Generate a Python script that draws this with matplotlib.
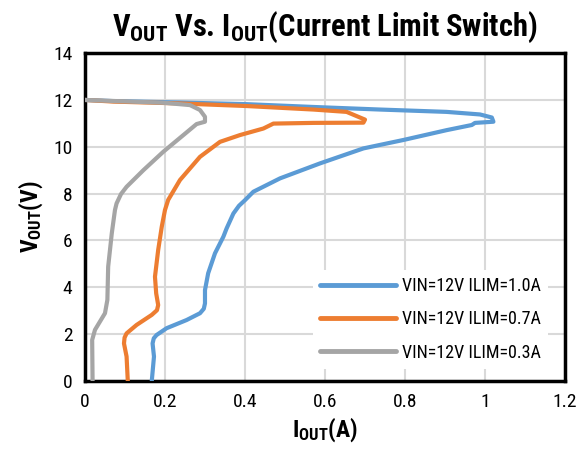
import matplotlib
matplotlib.use("Agg")
import matplotlib.pyplot as plt
from matplotlib import font_manager

avail = {f.name for f in font_manager.fontManager.ttflist}
font = next((n for n in ["Liberation Sans Narrow", "Arial Narrow", "Roboto Condensed",
                         "PT Sans Narrow", "Liberation Sans"] if n in avail), "DejaVu Sans")

plt.rcParams['font.family'] = [font, 'DejaVu Sans']
plt.rcParams['mathtext.fontset'] = 'custom'
plt.rcParams['mathtext.rm'] = font + ':bold'
plt.rcParams['mathtext.it'] = font + ':bold'
plt.rcParams['mathtext.bf'] = font + ':bold'

# ---- data ----
blue_x = [0.167, 0.1725, 0.169, 0.172, 0.179, 0.204, 0.254, 0.2875, 0.297, 0.300, 0.300, 0.308,
          0.325, 0.346, 0.354, 0.371, 0.385, 0.400, 0.421, 0.4875, 0.5875, 0.696, 0.796, 0.904,
          0.967, 0.975, 1.021, 1.017, 0.9875, 0.904, 0.7375, 0.571, 0.404, 0.2375, 0.071, 0.0]
blue_y = [0.0, 1.04, 1.6, 1.82, 1.96, 2.25, 2.6, 2.89, 3.08, 3.31, 3.88, 4.6,
          5.45, 6.16, 6.51, 7.15, 7.48, 7.72, 8.08, 8.65, 9.29, 9.93, 10.29, 10.71,
          10.93, 11.02, 11.07, 11.25, 11.38, 11.49, 11.59, 11.7, 11.82, 11.89, 11.95, 12.0]

orange_x = [0.107, 0.104, 0.0975, 0.099, 0.104, 0.129, 0.167, 0.180, 0.183, 0.178, 0.175,
            0.183, 0.192, 0.200, 0.208, 0.2375, 0.2875, 0.3375, 0.3875, 0.446, 0.471, 0.571,
            0.696, 0.700, 0.654, 0.571, 0.404, 0.2375, 0.071, 0.0]
orange_y = [0.0, 1.04, 1.6, 1.85, 2.03, 2.39, 2.82, 3.02, 3.24, 3.74, 4.45,
            5.59, 6.59, 7.3, 7.73, 8.58, 9.57, 10.21, 10.50, 10.78, 10.99, 11.02,
            11.03, 11.16, 11.49, 11.59, 11.74, 11.85, 11.93, 12.0]

gray_x = [0.019, 0.018, 0.025, 0.05, 0.056, 0.058, 0.067, 0.075, 0.079, 0.090, 0.104, 0.146,
          0.196, 0.246, 0.279, 0.300, 0.300, 0.2875, 0.2625, 0.196, 0.1125, 0.0]
gray_y = [0.0, 1.75, 2.18, 2.89, 3.46, 4.88, 6.30, 7.30, 7.58, 7.98, 8.29, 9.0,
          9.79, 10.5, 10.97, 11.07, 11.28, 11.57, 11.78, 11.88, 11.93, 12.0]

labels = ["VIN=12V ILIM=1.0A", "VIN=12V ILIM=0.7A", "VIN=12V ILIM=0.3A"]
colors = ["#5B9BD5", "#ED7D31", "#A5A5A5"]

x_ticks = [0, 0.2, 0.4, 0.6, 0.8, 1, 1.2]
x_tick_labels = ["0", "0.2", "0.4", "0.6", "0.8", "1", "1.2"]
y_ticks = [0, 2, 4, 6, 8, 10, 12, 14]

fig = plt.figure(figsize=(5.84, 4.54), dpi=100)
ax = fig.add_axes([0.1455, 0.161, 0.822, 0.722])

for xs, ys, lab, c in zip([blue_x, orange_x, gray_x], [blue_y, orange_y, gray_y], labels, colors):
    ax.plot(xs, ys, color=c, lw=3, label=lab, solid_joinstyle='round',
            solid_capstyle='round', zorder=3)

ax.set_xlim(0, 1.2)
ax.set_ylim(0, 14)
ax.set_xticks(x_ticks)
ax.set_xticklabels(x_tick_labels)
ax.set_yticks(y_ticks)
ax.grid(True, color="#D9D9D9", lw=1.5, zorder=0)
ax.set_axisbelow(True)
ax.tick_params(length=0, labelsize=14, pad=9, colors="#000000")
for s in ax.spines.values():
    s.set_color("black")
    s.set_linewidth(2.5)

ax.set_title(r"V$_\mathrm{OUT}$ Vs. I$_\mathrm{OUT}$(Current Limit Switch)", fontsize=22,
             fontweight='bold', pad=12)
ax.set_xlabel(r"I$_\mathrm{OUT}$(A)", fontsize=17, fontweight='bold', labelpad=3)
ax.set_ylabel(r"V$_\mathrm{OUT}$(V)", fontsize=17, fontweight='bold', labelpad=6)

leg = ax.legend(loc='lower right', frameon=True, fontsize=13, handlelength=4.2,
                handletextpad=0.3, labelspacing=0.85, borderaxespad=0.3,
                bbox_to_anchor=(0.975, 0.02))
leg.get_frame().set_edgecolor('none')
leg.get_frame().set_facecolor('white')
leg.get_frame().set_alpha(1)
for line in leg.get_lines():
    line.set_linewidth(3.5)

fig.savefig("out.png", dpi=100)
